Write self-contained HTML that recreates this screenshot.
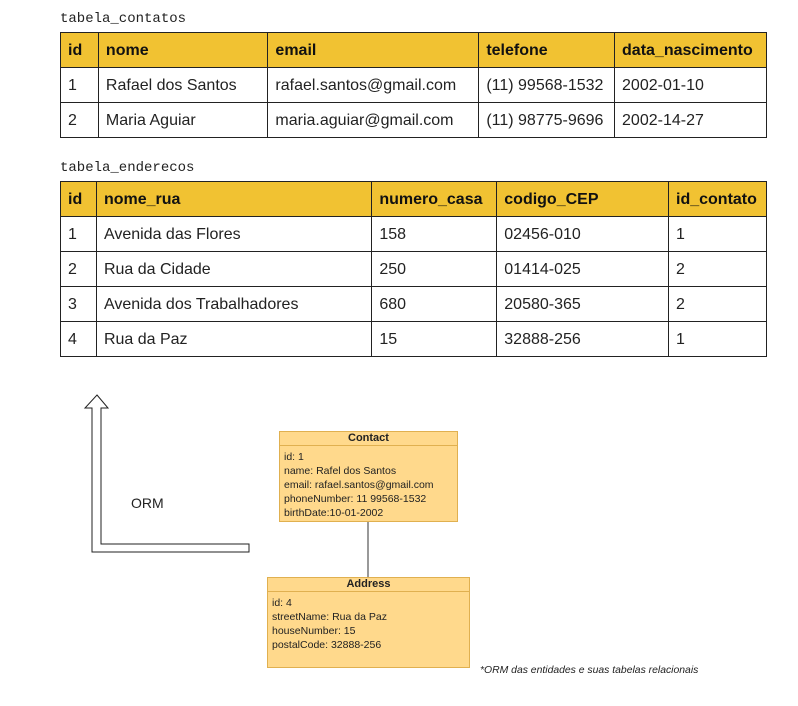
<!DOCTYPE html>
<html><head><meta charset="utf-8"><style>
body{margin:0;width:798px;height:706px;background:#fff;position:relative;font-family:"Liberation Sans",sans-serif;overflow:hidden}
.cap{position:absolute;font-family:"Liberation Mono",monospace;font-size:14px;color:#222}
table{position:absolute;border-collapse:collapse;font-size:16px;color:#222}
td,th{border:1px solid #222;padding:2px 0 0 7px;text-align:left;height:35px;box-sizing:border-box}
th{background:#f1c232;font-weight:bold;color:#111}
.box{position:absolute;background:#ffd98c;border:1px solid #e0b050;box-sizing:border-box;font-size:10.5px;color:#222}
.box .h{font-weight:bold;font-size:11px;text-align:center;border-bottom:1px solid #e0b050;height:13px;line-height:13px}
.box .b{padding:4px 4px;line-height:14px}
</style></head><body>
<div class="cap" style="left:60px;top:11px">tabela_contatos</div>
<table style="left:60px;top:32px;width:707px">
<colgroup><col style="width:38px"><col style="width:170px"><col style="width:211px"><col style="width:136px"><col style="width:152px"></colgroup>
<tr><th>id</th><th>nome</th><th>email</th><th>telefone</th><th>data_nascimento</th></tr>
<tr><td>1</td><td>Rafael dos Santos</td><td>rafael.santos@gmail.com</td><td>(11) 99568-1532</td><td>2002-01-10</td></tr>
<tr><td>2</td><td>Maria Aguiar</td><td>maria.aguiar@gmail.com</td><td>(11) 98775-9696</td><td>2002-14-27</td></tr>
</table>
<div class="cap" style="left:60px;top:160px">tabela_enderecos</div>
<table style="left:60px;top:181px;width:707px">
<colgroup><col style="width:36px"><col style="width:276px"><col style="width:125px"><col style="width:172px"><col style="width:98px"></colgroup>
<tr><th>id</th><th>nome_rua</th><th>numero_casa</th><th>codigo_CEP</th><th>id_contato</th></tr>
<tr><td>1</td><td>Avenida das Flores</td><td>158</td><td>02456-010</td><td>1</td></tr>
<tr><td>2</td><td>Rua da Cidade</td><td>250</td><td>01414-025</td><td>2</td></tr>
<tr><td>3</td><td>Avenida dos Trabalhadores</td><td>680</td><td>20580-365</td><td>2</td></tr>
<tr><td>4</td><td>Rua da Paz</td><td>15</td><td>32888-256</td><td>1</td></tr>
</table>
<svg style="position:absolute;left:0;top:0" width="798" height="706">
<polygon points="97,395 108,408 101,408 101,544 249,544 249,552 92,552 92,408 85,408" fill="#fff" stroke="#222" stroke-width="1"/>
<line x1="368" y1="521" x2="368" y2="577" stroke="#333" stroke-width="1"/>
</svg>
<div style="position:absolute;left:131px;top:495px;font-size:14px;color:#222">ORM</div>
<div class="box" style="left:279px;top:431px;width:179px;height:91px"><div class="h">Contact</div><div class="b">id: 1<br>name: Rafel dos Santos<br>email: rafael.santos@gmail.com<br>phoneNumber: 11 99568-1532<br>birthDate:10-01-2002</div></div>
<div class="box" style="left:267px;top:577px;width:203px;height:91px"><div class="h">Address</div><div class="b">id: 4<br>streetName: Rua da Paz<br>houseNumber: 15<br>postalCode: 32888-256</div></div>
<div style="position:absolute;left:480px;top:665px;font-size:10.4px;font-style:italic;color:#222">*ORM das entidades e suas tabelas relacionais</div>
</body></html>
